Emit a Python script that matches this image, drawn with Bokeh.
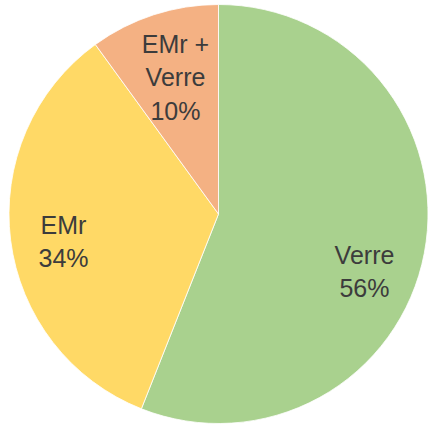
import math
from bokeh.plotting import figure
from bokeh.models import ColumnDataSource
from bokeh.core.properties import value
from bokeh.embed import file_html
from bokeh.resources import INLINE

categories = ["Verre", "EMr", "EMr +\nVerre"]
shares = [56, 34, 10]
colors = ["#A9D18E", "#FFD966", "#F4B183"]

# label anchor positions (plot units = pixels)
label_x = [364, 63, 175]
label_y = [157, 187, 351]

W, H = 429, 428
p = figure(width=W, height=H, x_range=(0, W), y_range=(0, H),
           output_backend="svg", toolbar_location=None, min_border=0,
           background_fill_color="white", border_fill_color="white")
p.axis.visible = False
p.grid.visible = False
p.outline_line_color = None

cx, cy, R = 218, 214.5, 209.5
total = sum(shares)
starts, ends = [], []
acc = 0.0
for s in shares:
    starts.append(math.pi / 2 - 2 * math.pi * acc / total)
    acc += s
    ends.append(math.pi / 2 - 2 * math.pi * acc / total)

src = ColumnDataSource(dict(start=starts, end=ends, color=colors,
                            x=[cx] * len(shares), y=[cy] * len(shares)))
p.wedge(x="x", y="y", radius=R, radius_units="screen", start_angle="start",
        end_angle="end", direction="clock", fill_color="color",
        line_color="white", line_width=0.8, source=src)

labels = [f"{c}\n{s}%" for c, s in zip(categories, shares)]
lsrc = ColumnDataSource(dict(x=label_x, y=label_y, text=labels))
p.text(x="x", y="y", text="text", source=lsrc, text_align="center",
       text_baseline="middle", text_font=value("Liberation Sans"),
       text_font_size="25px", text_color="#3c3c3c", text_line_height=1.2)

open("out.html", "w").write(file_html(p, INLINE))
